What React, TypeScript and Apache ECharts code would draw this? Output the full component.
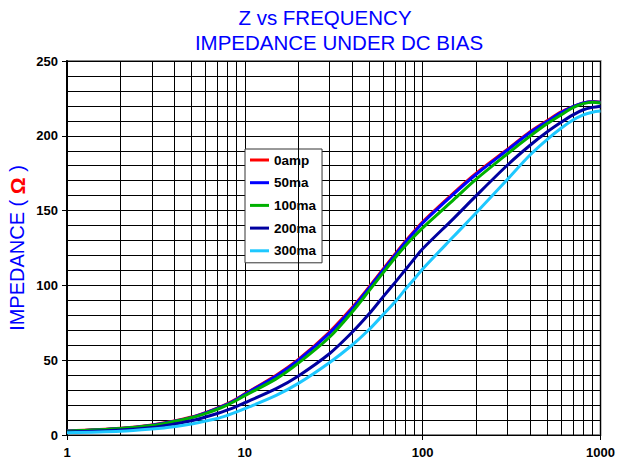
import React, { useEffect, useRef } from 'react';
import * as echarts from 'echarts';

const freq = [1, 2, 3, 4, 5, 6, 7, 8, 9, 10, 15, 20, 30, 40, 50, 60, 70, 80, 90, 100, 150, 200, 300, 400, 500, 600, 700, 800, 900, 1000];
const z0amp = [2.7, 4.5, 6.7, 9.3, 12, 15, 18, 21, 24.2, 27.5, 40, 50.5, 69, 85, 99, 111, 121, 129.5, 136.5, 142.5, 162, 175, 191, 202.5, 210, 216, 219.5, 222, 223, 222.5];
const z50ma = [2.6, 4.4, 6.6, 9.2, 11.8, 14.8, 17.8, 20.7, 23.9, 27.2, 39.5, 50, 68.3, 84.3, 98.3, 110.3, 120.3, 128.8, 135.8, 141.8, 161.3, 174.3, 190.5, 202, 209.5, 215.5, 219.5, 222, 222.8, 222.5];
const z100ma = [2.5, 4.3, 6.3, 9, 11.5, 14.3, 17.2, 20.2, 23.2, 26.3, 37.5, 48, 65.5, 82, 96.5, 108.5, 118.5, 126.5, 133, 138.5, 157.5, 171, 188, 199.6, 208, 214, 218.8, 221.5, 222.5, 222];
const z200ma = [2, 3.3, 5, 7.3, 9.5, 12, 14.4, 16.8, 19.2, 21.6, 31, 39.5, 54.5, 68.5, 81, 92.5, 102, 110.5, 118, 124.5, 145, 160, 180.5, 193.5, 202.5, 209, 214, 217.4, 219, 219.8];
const z300ma = [1.5, 2.5, 4, 5.5, 7.3, 9.3, 11, 13.2, 15.4, 17.6, 26.5, 34.5, 48.5, 60, 70.5, 80.5, 89, 97.5, 104.5, 111, 133, 148.5, 171, 187, 197.5, 205, 210.5, 214, 215.8, 216.5];

const seriesNames = ['0amp', '50ma', '100ma', '200ma', '300ma'];
const seriesValues = [z0amp, z50ma, z100ma, z200ma, z300ma];
const seriesColors = ['#FF0000', '#0000FF', '#00B000', '#0000A0', '#1EC8FF'];

const minorFreq = [2, 3, 4, 5, 6, 7, 8, 9, 20, 30, 40, 50, 60, 70, 80, 90, 200, 300, 400, 500, 600, 700, 800, 900];

const titleLine1 = 'Z vs FREQUENCY';
const titleLine2 = 'IMPEDANCE UNDER DC BIAS';

export default function App() {
  const ref = useRef<HTMLDivElement>(null);
  useEffect(() => {
    if (!ref.current) return;
    const chart = echarts.init(ref.current, null, { renderer: 'svg' });
    const lineSeries = seriesNames.map((name, i) => ({
      name,
      type: 'line',
      yAxisIndex: 0,
      data: freq.map((f, j) => [f, seriesValues[i][j]]),
      showSymbol: false,
      symbol: 'none',
      smooth: 0.3,
      z: 5,
      lineStyle: { color: seriesColors[i], width: 3 },
      itemStyle: { color: seriesColors[i] },
    }));
    const option: any = {
      animation: false,
      backgroundColor: '#fff',
      grid: {
        left: 67, right: 17, top: 61, bottom: 28,
        show: true, borderColor: '#888', borderWidth: 2, backgroundColor: 'transparent',
      },
      graphic: [
        {
          type: 'text', x: 325, y: 17,
          style: { text: titleLine1, fill: '#0000FF', fontSize: 20.5, fontFamily: '"Liberation Sans", Arial', align: 'center', verticalAlign: 'middle' },
        },
        {
          type: 'text', x: 339, y: 42,
          style: { text: titleLine2, fill: '#0000FF', fontSize: 20.5, fontFamily: '"Liberation Sans", Arial', align: 'center', verticalAlign: 'middle' },
        },
        {
          type: 'text', x: 17, y: 248, rotation: Math.PI / 2,
          style: {
            text: '{a|IMPEDANCE ( }{b|Ω}{a| )}',
            align: 'center', verticalAlign: 'middle',
            rich: {
              a: { fill: '#0000FF', fontSize: 20, fontFamily: '"Liberation Sans", Arial' },
              b: { fill: '#FF0000', fontSize: 21, fontWeight: 'bold', fontFamily: '"Liberation Sans", Arial' },
            },
          },
        },
      ],
      legend: {
        data: seriesNames.map((n, i) => ({ name: n, icon: 'rect', itemStyle: { color: seriesColors[i] } })),
        orient: 'vertical',
        left: 245, top: 149,
        backgroundColor: '#fff',
        borderColor: '#333', borderWidth: 1,
        padding: [4, 6, 5, 5],
        itemGap: 8.7, itemWidth: 19, itemHeight: 3,
        textStyle: { fontWeight: 'bold', fontSize: 13.5, lineHeight: 14, fontFamily: '"Liberation Sans", Arial', color: '#000' },
      },
      xAxis: {
        type: 'log', logBase: 10, min: 1, max: 1000,
        axisLine: { show: true, lineStyle: { color: '#000', width: 1 } },
        axisTick: { show: true, length: 5, lineStyle: { color: '#000' } },
        axisLabel: { color: '#000', fontWeight: 'bold', fontSize: 13, fontFamily: '"Liberation Sans", Arial', margin: 11, formatter: (v: number) => String(v) },
        splitLine: { show: true, lineStyle: { color: '#000', width: 1 } },
        minorTick: { show: false },
        minorSplitLine: { show: false },
      },
      yAxis: [
        {
          type: 'value', min: 0, max: 250, interval: 50,
          axisLine: { show: true, lineStyle: { color: '#000', width: 2 } },
          axisTick: { show: true, length: 5, lineStyle: { color: '#000' } },
          axisLabel: { color: '#000', fontWeight: 'bold', fontSize: 13, fontFamily: '"Liberation Sans", Arial', margin: 9 },
          splitLine: { show: false },
        },
        {
          type: 'value', min: 0, max: 250, interval: 10, position: 'left',
          axisLine: { show: false }, axisTick: { show: false }, axisLabel: { show: false },
          splitLine: { show: true, lineStyle: { color: '#000', width: 1 } },
        },
      ],
      series: [
        {
          name: 'grid-minor',
          type: 'line',
          data: [],
          z: 1,
          silent: true,
          markLine: {
            silent: true,
            symbol: ['none', 'none'],
            label: { show: false },
            lineStyle: { color: '#000', width: 1, type: 'solid' },
            data: minorFreq.map((f) => ({ xAxis: f })),
          },
        },
        ...lineSeries,
      ],
    };
    chart.setOption(option);
    return () => chart.dispose();
  }, []);
  return <div ref={ref} style={{ position: 'fixed', left: 0, top: 0, width: 618, height: 463 }} />;
}
